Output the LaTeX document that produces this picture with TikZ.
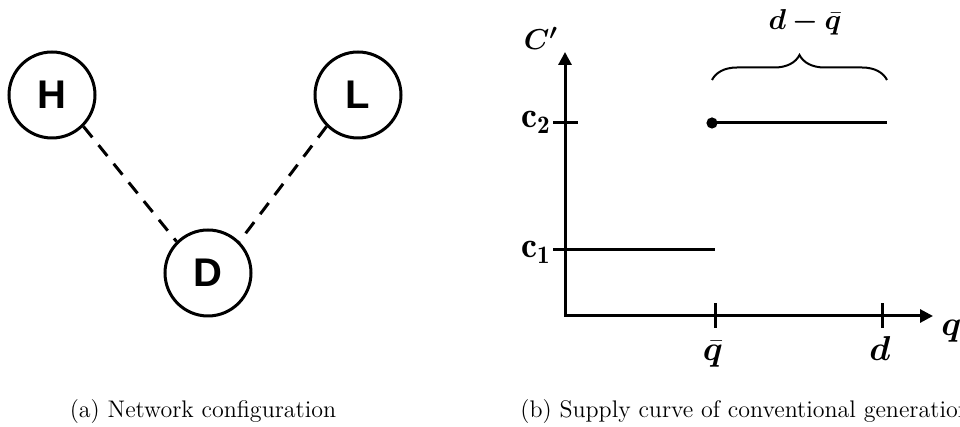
\documentclass[tikz,border=0pt]{standalone}
\usepackage{amsmath, amssymb, bm}
\usepackage{fontspec}
\newfontfamily\busfont{Liberation Sans}
\usetikzlibrary{arrows.meta, decorations.pathreplacing}

\begin{document}
\begin{tikzpicture}[x=0.5pt, y=0.5pt, >={Triangle[length=6.5pt, width=6.5pt]},
    bus/.style={draw, circle, line width=1.5pt, minimum size=43pt, inner sep=0pt,
                font=\busfont\fontsize{20}{24}\selectfont\bfseries},
    link/.style={line width=1.5pt, dash pattern=on 7pt off 5pt},
    axis/.style={line width=1.5pt},
    lbl/.style={inner sep=0pt, font=\fontsize{15}{18}\selectfont},
    biglbl/.style={inner sep=0pt, font=\fontsize{18}{21}\selectfont},
    capt/.style={inner sep=0pt, font=\fontsize{12}{14}\selectfont}]
  \useasboundingbox (0,0) rectangle (960,427);

  % Network configuration
  \node[bus] (H) at (52,332) {H};
  \node[bus] (L) at (358,332) {L};
  \node[bus] (D) at (208,154) {D};
  \draw[link] (H.-45) -- (D.135);
  \draw[link] (L.-135) -- (D.45);

  % Supply curve
  \coordinate (O) at (565,111);
  \coordinate (ytop) at (565,375);
  \coordinate (xend) at (933,111);
  \draw[axis, <->] (ytop) -- (O) -- (xend);
  \foreach \x in {715, 882}
    \draw[axis] (\x,99) -- (\x,124);
  \draw[axis] (553,304) -- (578,304);
  \draw[axis] (553,177) -- (715,177);
  \draw[axis] (712,304) -- (887,304);
  \fill (712,304) circle (2.8pt);
  \draw[decorate, decoration={brace, amplitude=12.5pt}, line width=1pt] (712,347) -- (887,347);

  \node[lbl, anchor=base] (gap) at (805,397) {$\bm{d-\bar{q}}$};
  \node[lbl, anchor=base] (cprime) at (541,377) {$\bm{C'}$};
  \node[biglbl, anchor=base east] (c2) at (551,299) {$\mathbf{c}_{\mathbf{2}}$};
  \node[biglbl, anchor=base east] (c1) at (551,169) {$\mathbf{c}_{\mathbf{1}}$};
  \node[biglbl, anchor=base] (qbar) at (713,66) {$\bm{\bar{q}}$};
  \node[biglbl, anchor=base] (dem) at (880,66) {$\bm{d}$};
  \node[biglbl, anchor=base west] (qlab) at (941,91) {$\bm{q}$};

  % Captions
  \node[capt, anchor=base] (capa) at (203,9) {(a) Network configuration};
  \node[capt, anchor=base west] (capb) at (520,9) {(b) Supply curve of conventional generation};
\end{tikzpicture}
\end{document}
